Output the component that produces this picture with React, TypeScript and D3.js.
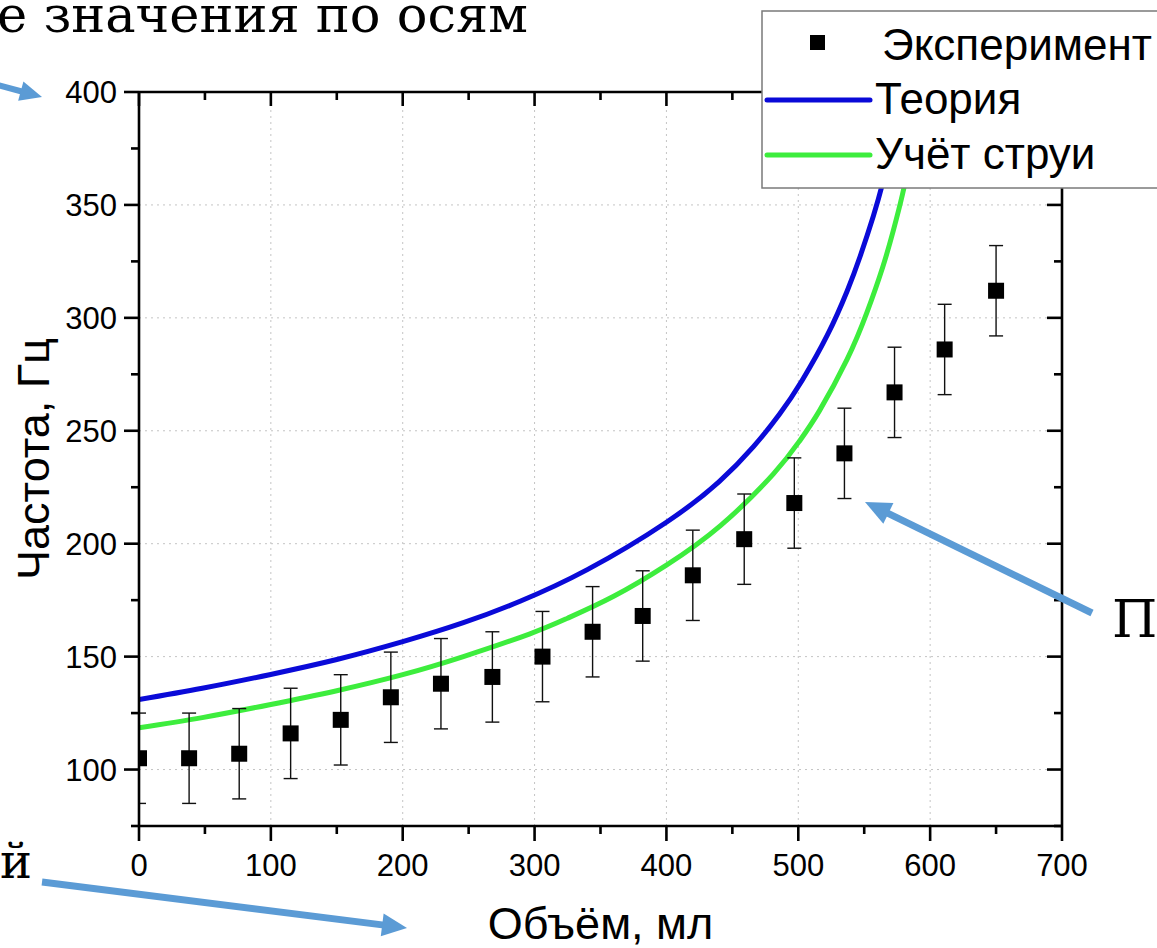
import React from "react";
import * as d3 from "d3";

const volumes = [0, 38, 76, 115, 153, 191, 229, 268, 306, 344, 382, 420, 459, 497, 535, 573, 611, 650];
const freqExp = [105, 105, 107, 116, 122, 132, 138, 141, 150, 161, 168, 186, 202, 218, 240, 267, 286, 312];
const freqErr = [20, 20, 20, 20, 20, 20, 20, 20, 20, 20, 20, 20, 20, 20, 20, 20, 20, 20];

const theoryV = [0, 48, 99, 150, 200, 246, 289, 340, 400, 440, 466, 486, 503, 522, 537, 547, 557, 564, 571, 577, 583];
const theoryF = [131, 136, 142, 148.7, 156.6, 165, 174.5, 188.5, 209.5, 227.5, 243, 257.5, 272.4, 292.3, 311.8, 327.4, 345.2, 359.6, 376.5, 394, 413];

const jetV = [0, 48, 99, 150, 200, 246, 296, 325, 360, 400, 441, 481, 501, 516, 537, 552, 564, 572, 579, 585, 591, 597];
const jetF = [118.5, 123, 128.7, 134.9, 142, 150, 160, 167, 176.7, 190.5, 208, 230.8, 245.5, 258.8, 281.6, 302.3, 322.4, 338.5, 354.6, 371, 388, 407];

const xMajor = [0, 100, 200, 300, 400, 500, 600, 700];
const xMinor = [50, 150, 250, 350, 450, 550, 650];
const yMajor = [100, 150, 200, 250, 300, 350, 400];
const yMinor = [75, 125, 175, 225, 275, 325, 375];

const legendItems = ["Эксперимент", "Теория", "Учёт струи"];

const W = 1157;
const H = 948;
const L = 139, R = 1062, T = 92, B = 826;

const BLUE = "#0a0ad8";
const GREEN = "#3ded3d";
const ARROW = "#5b9bd5";

function Arrow({ x1, y1, x2, y2, w = 7, hl = 25, hw = 22 }: any) {
  const dx = x2 - x1, dy = y2 - y1;
  const len = Math.hypot(dx, dy);
  const ux = dx / len, uy = dy / len;
  const px = -uy, py = ux;
  const bx = x2 - ux * hl, by = y2 - uy * hl;
  const head = `M${x2},${y2} L${bx + px * hw / 2},${by + py * hw / 2} L${bx - px * hw / 2},${by - py * hw / 2} Z`;
  return (
    <g>
      <line x1={x1} y1={y1} x2={bx + ux * 2} y2={by + uy * 2} stroke={ARROW} strokeWidth={w} />
      <path d={head} fill={ARROW} />
    </g>
  );
}

export default function App() {
  const x = d3.scaleLinear().domain([0, 700]).range([L, R]);
  const y = d3.scaleLinear().domain([75, 400]).range([B, T]);
  const line = d3.line<[number, number]>().x((d) => x(d[0])).y((d) => y(d[1])).curve(d3.curveNatural);
  const theoryPath = line(theoryV.map((v, i) => [v, theoryF[i]]) as [number, number][]) || "";
  const jetPath = line(jetV.map((v, i) => [v, jetF[i]]) as [number, number][]) || "";
  const font = "'Liberation Sans', Arial, sans-serif";
  const serif = "'DejaVu Serif', serif";
  const axisW = 2.6;

  return (
    <svg width={W} height={H} style={{ position: "absolute", left: 0, top: 0, background: "#fff" }}>
      <rect x={0} y={0} width={W} height={H} fill="#fff" />
      <defs>
        <clipPath id="plot">
          <rect x={L} y={T} width={R - L} height={B - T} />
        </clipPath>
      </defs>

      {/* grid */}
      <g stroke="#c4c4c4" strokeWidth={1} strokeDasharray="2 4">
        {xMajor.filter((v) => v > 0 && v < 700).map((v) => (
          <line key={"gx" + v} x1={x(v)} x2={x(v)} y1={T} y2={B} />
        ))}
        {yMajor.filter((v) => v < 400).map((v) => (
          <line key={"gy" + v} x1={L} x2={R} y1={y(v)} y2={y(v)} />
        ))}
      </g>

      {/* curves */}
      <g clipPath="url(#plot)">
        <path d={theoryPath} fill="none" stroke={BLUE} strokeWidth={5} />
        <path d={jetPath} fill="none" stroke={GREEN} strokeWidth={5} />
        {volumes.map((v, i) => (
          <g key={"p" + i} stroke="#111" strokeWidth={1.4}>
            <line x1={x(v)} x2={x(v)} y1={y(freqExp[i] - freqErr[i])} y2={y(freqExp[i] + freqErr[i])} />
            <line x1={x(v) - 7} x2={x(v) + 7} y1={y(freqExp[i] - freqErr[i])} y2={y(freqExp[i] - freqErr[i])} />
            <line x1={x(v) - 7} x2={x(v) + 7} y1={y(freqExp[i] + freqErr[i])} y2={y(freqExp[i] + freqErr[i])} />
            <rect x={x(v) - 8} y={y(freqExp[i]) - 8} width={16} height={16} fill="#000" stroke="none" />
          </g>
        ))}
      </g>

      {/* axes frame */}
      <g stroke="#000" strokeWidth={axisW} fill="none">
        <line x1={L} x2={R} y1={B} y2={B} />
        <line x1={L} x2={R} y1={T} y2={T} />
        <line x1={L} x2={L} y1={T} y2={B} />
        <line x1={R} x2={R} y1={T} y2={B} />
        {xMajor.map((v) => <line key={"bx" + v} x1={x(v)} x2={x(v)} y1={B} y2={B + 15} />)}
        {xMinor.map((v) => <line key={"bxm" + v} x1={x(v)} x2={x(v)} y1={B} y2={B + 8} />)}
        {xMajor.map((v) => <line key={"tx" + v} x1={x(v)} x2={x(v)} y1={T} y2={T + 14} />)}
        {xMinor.map((v) => <line key={"txm" + v} x1={x(v)} x2={x(v)} y1={T} y2={T + 8} />)}
        {yMajor.map((v) => <line key={"ly" + v} x1={L - 15} x2={L} y1={y(v)} y2={y(v)} />)}
        {yMinor.map((v) => <line key={"lym" + v} x1={L - 8} x2={L} y1={y(v)} y2={y(v)} />)}
        {yMajor.map((v) => <line key={"ry" + v} x1={R - 15} x2={R} y1={y(v)} y2={y(v)} />)}
        {yMinor.map((v) => <line key={"rym" + v} x1={R - 8} x2={R} y1={y(v)} y2={y(v)} />)}
      </g>

      {/* tick labels */}
      <g fontFamily={font} fontSize={31} fill="#000">
        {xMajor.map((v) => (
          <text key={"xl" + v} x={x(v)} y={B + 50} textAnchor="middle">{v}</text>
        ))}
        {yMajor.map((v) => (
          <text key={"yl" + v} x={L - 22} y={y(v) + 11} textAnchor="end">{v}</text>
        ))}
      </g>

      {/* axis titles */}
      <text x={(L + R) / 2} y={939} textAnchor="middle" fontFamily={font} fontSize={45}>Объём, мл</text>
      <text transform={`translate(49, ${(T + B) / 2}) rotate(-90)`} textAnchor="middle" fontFamily={font} fontSize={45}>Частота, Гц</text>

      {/* legend */}
      <g>
        <rect x={762} y={11} width={420} height={177} fill="#fff" stroke="#7a7a7a" strokeWidth={1.5} />
        <rect x={810} y={35} width={15} height={15} fill="#000" />
        <line x1={767} x2={870} y1={100} y2={100} stroke={BLUE} strokeWidth={5} strokeLinecap="round" />
        <line x1={767} x2={870} y1={155} y2={155} stroke={GREEN} strokeWidth={5} strokeLinecap="round" />
        <g fontFamily={font} fontSize={44} fill="#000">
          <text x={882} y={60}>{legendItems[0]}</text>
          <text x={875} y={114}>{legendItems[1]}</text>
          <text x={875} y={169}>{legendItems[2]}</text>
        </g>
      </g>

      {/* overlay slide text */}
      <text x={-3} y={32} fontFamily={serif} fontSize={51} fill="#000">е значения по осям</text>
      <text x={0} y={878} fontFamily={serif} fontSize={48} fill="#000">й</text>
      <text x={1112} y={637} fontFamily={serif} fontSize={52} fill="#000">П</text>

      {/* arrows */}
      <Arrow x1={-2} y1={85} x2={42} y2={97} w={6} hl={22} hw={20} />
      <Arrow x1={42} y1={882} x2={407} y2={928} w={7} hl={25} hw={23} />
      <Arrow x1={1092} y1={613} x2={865} y2={502} w={7} hl={26} hw={23} />
    </svg>
  );
}
